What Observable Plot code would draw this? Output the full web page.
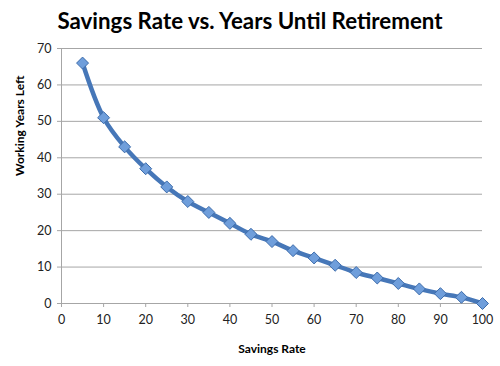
<!DOCTYPE html>
<html>
<head>
<meta charset="utf-8">
<script src="https://cdn.jsdelivr.net/npm/d3@7"></script>
<script src="https://cdn.jsdelivr.net/npm/@observablehq/plot@0.6"></script>
<style>
  body { margin: 0; background: #fff; }
  #title { height: 40px; width: 500px; text-align: center; font-family: Lato, "Open Sans", sans-serif; font-weight: bold; font-size: 22.3px; line-height: 42px; color: #000; box-sizing: border-box; }
  #chart svg { display: block; }
</style>
</head>
<body>
<div id="title">Savings Rate vs. Years Until Retirement</div>
<div id="chart"></div>
<script>
const savingsRate = [5, 10, 15, 20, 25, 30, 35, 40, 45, 50, 55, 60, 65, 70, 75, 80, 85, 90, 95, 100];
const yearsLeft = [66, 51, 43, 37, 32, 28, 25, 22, 19, 17, 14.5, 12.5, 10.5, 8.5, 7, 5.5, 4, 2.7, 1.7, 0];
const xTicks = [0, 10, 20, 30, 40, 50, 60, 70, 80, 90, 100];
const yTicks = [0, 10, 20, 30, 40, 50, 60, 70];
const xLabel = "Savings Rate";
const yLabel = "Working Years Left";

const data = savingsRate.map((r, i) => ({rate: r, years: yearsLeft[i]}));

const chart = Plot.plot({
  width: 500,
  height: 326,
  marginLeft: 61,
  marginRight: 18,
  marginTop: 8,
  marginBottom: 63,
  style: {fontFamily: "Lato, 'Open Sans', sans-serif", fontSize: "12px", color: "#222", background: "#fff"},
  x: {domain: [0, 100]},
  y: {domain: [0, 70]},
  marks: [
    Plot.ruleY(yTicks, {stroke: "#a6a6a6", strokeWidth: 1, strokeOpacity: 1}),
    Plot.ruleX([0], {stroke: "#a6a6a6", strokeWidth: 1, strokeOpacity: 1}),
    Plot.axisY(yTicks, {tickSize: 4, tickPadding: 6, stroke: "#a6a6a6", label: null, fontSize: 12.5}),
    Plot.axisX(xTicks, {tickSize: 4, tickPadding: 8, stroke: "#a6a6a6", label: null, fontSize: 12.5}),
    Plot.line(data, {x: "rate", y: "years", stroke: "#4677b8", strokeWidth: 4.5, curve: "catmull-rom"}),
    Plot.dot(data, {x: "rate", y: "years", symbol: "diamond2", r: 5.4, fill: "#6f9edb", stroke: "#3d6cab", strokeWidth: 1}),
    Plot.text([xLabel], {frameAnchor: "bottom", dy: 49, fontWeight: "bold", fontSize: 12, fill: "#000"}),
    Plot.text([yLabel], {frameAnchor: "left", dx: -41, rotate: -90, fontWeight: "bold", fontSize: 12, fill: "#000"})
  ]
});
document.getElementById("chart").append(chart);
</script>
</body>
</html>
